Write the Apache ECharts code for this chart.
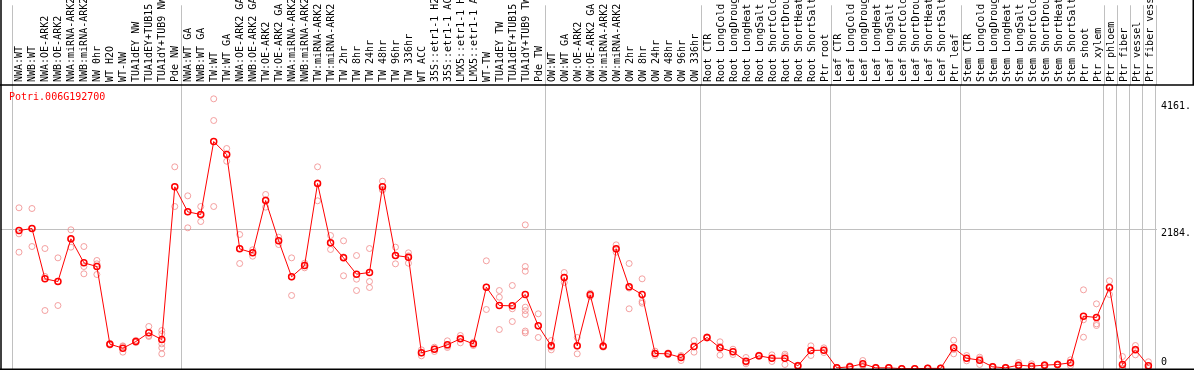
<!DOCTYPE html>
<html><head><meta charset="utf-8">
<script src="https://cdn.jsdelivr.net/npm/echarts@6/dist/echarts.min.js"></script>
<style>html,body{margin:0;padding:0;background:#fff}#c{width:1194px;height:370px}</style>
</head><body><div id="c"></div>
<script>
const categories = [
"NWA:WT","NWB:WT","NWA:OE-ARK2","NWB:OE-ARK2","NWA:miRNA-ARK2","NWB:miRNA-ARK2","NW 0hr","WT H2O","WT-NW","TUA1dEY NW","TUA1dEY+TUB15","TUA1dY+TUB9 NW","Pde NW",
"NWA:WT GA","NWB:WT GA","TW:WT","TW:WT GA","NWA:OE-ARK2 GA","NWB:OE-ARK2 GA","TW:OE-ARK2","TW:OE-ARK2 GA","NWA:miRNA-ARK2","NWB:miRNA-ARK2","TW:miRNA-ARK2","TW:miRNA-ARK2","TW 2hr","TW 8hr","TW 24hr","TW 48hr","TW 96hr","TW 336hr","WT ACC","35S::etr1-1 H2","35S::etr1-1 AC","LMX5::etr1-1 H","LMX5::etr1-1 A","WT-TW","TUA1dEY TW","TUA1dEY+TUB15","TUA1dY+TUB9 TW","Pde TW",
"OW:WT","OW:WT GA","OW:OE-ARK2","OW:OE-ARK2 GA","OW:miRNA-ARK2","OW:miRNA-ARK2","OW 2hr","OW 8hr","OW 24hr","OW 48hr","OW 96hr","OW 336hr",
"Root CTR","Root LongCold","Root LongDroug","Root LongHeat","Root LongSalt","Root ShortCold","Root ShortDrou","Root ShortHeat","Root ShortSalt","Ptr root",
"Leaf CTR","Leaf LongCold","Leaf LongDroug","Leaf LongHeat","Leaf LongSalt","Leaf ShortCold","Leaf ShortDrou","Leaf ShortHeat","Leaf ShortSalt","Ptr leaf",
"Stem CTR","Stem LongCold","Stem LongDroug","Stem LongHeat","Stem LongSalt","Stem ShortCold","Stem ShortDrou","Stem ShortHeat","Stem ShortSalt",
"Ptr shoot","Ptr xylem","Ptr phloem","Ptr fiber","Ptr vessel","Ptr fiber vess"];

const means = [
2153,2184,1402,1360,2024,1651,1593,386,324,427,562,458,2832,
2443,2402,3536,3334,1868,1806,2619,1993,1433,1609,2884,1962,1728,1474,1500,2832,1764,1738,251,308,376,469,391,1272,987,982,1158,671,
360,1422,360,1153,355,1868,1278,1158,241,236,179,350,
490,329,267,121,205,168,168,49,288,293,
18,34,81,18,18,5,5,10,10,329,
168,137,34,18,60,44,60,70,96,
821,801,1267,70,298,49];

const replicates = [
[2506,2101,1816],[2495,2184,1904],[1873,1438,909],[1728,1365,987],[2164,2014,1894],[1904,1593,1480],[1687,1635,1469],[400,386,372],[360,350,262],[445,425,411],[661,520,505],[598,547,391,329,236],[3143,2828,2526],
[2692,2443,2195],[2526,2390,2293],[4200,3863,2526],[3428,3340,3230],[2091,1875,1640],[1853,1810,1754],[2713,2630,2516],[2049,1995,1935],[1728,1430,1143],[1645,1610,1573],[3143,2894,2615],[2075,1953,1858],[1993,1742,1449],[1764,1396,1220],[1873,1360,1267],[2920,2795,2780],[1894,1765,1635],[1806,1760,1645],[298,250,205],[339,313,272],[438,356,334],[521,479,407],[417,391,365],[1682,1272,925],[1220,1116,614],[1298,936,738],[2241,1593,1520,961,909,847,590,562],[858,665,490],
[443,340,298],[1500,1420,1345],[490,354,236],[1179,1153,1127],[370,355,340],[1930,1860,1816],[1640,1258,936],[1402,1050,1023],[277,236,210],[250,236,222],[210,195,132],[443,345,262],
[500,490,480],[423,350,215],[308,268,225],[179,105,81],[215,205,195],[220,168,117],[230,205,70],[60,49,38],[360,294,210],[329,293,256],
[25,18,11],[50,34,20],[132,62,49],[25,18,11],[25,18,11],[8,5,2],[8,5,2],[15,10,5],[15,10,5],[448,303,236],
[210,168,127],[184,157,70],[40,34,28],[25,18,11],[101,40,40],[81,44,10],[70,60,50],[80,70,60],[143,93,52],
[1231,765,494],[1013,702,676],[1371,1270,1158],[194,10,10],[365,309,220],[112,25,10]];

const yTickLabelsUpper = [2184, 4161];
const yTickLabelsLower = [0];
const gridLineValues = [2184];
const groupStarts = [0, 13, 41, 53, 63, 73, 84, 85, 86, 87];
const geneTitle = 'Potri.006G192700';

const scatterData = [];
replicates.forEach((arr, i) => arr.forEach(v => scatterData.push([i, v])));

const FONT = 'DejaVu Sans Mono';
const YMAX = 4415;
const chart = echarts.init(document.getElementById('c'), null, {renderer: 'canvas'});
const gridL = 12.5, gridR = 37.5;
const splitFn = (idx) => groupStarts.indexOf(idx) >= 0;
const valueAxisBase = {gridIndex: 1, type: 'value', min: 0, max: YMAX, position: 'right',
  axisLine: {show: false}, axisTick: {show: false}, splitLine: {show: false}};

const option = {
  animation: false,
  title: {text: geneTitle, left: 9, top: 92, padding: 0,
    textStyle: {color: '#ff0000', fontSize: 10, fontWeight: 'normal', fontFamily: FONT}},
  grid: [
    {left: gridL, right: gridR, top: 0, height: 85},
    {left: gridL, right: gridR, top: 85, bottom: 1}
  ],
  xAxis: [
    {gridIndex: 0, type: 'category', data: categories, position: 'bottom',
      axisLine: {show: false}, axisTick: {show: false},
      axisLabel: {inside: true, rotate: 90, margin: 3, interval: 0, fontSize: 10, fontFamily: FONT, color: '#000'},
      splitLine: {show: true, interval: splitFn, lineStyle: {color: '#c0c0c0', width: 1}}},
    {gridIndex: 1, type: 'category', data: categories,
      axisLine: {show: false}, axisTick: {show: false}, axisLabel: {show: false},
      splitLine: {show: true, interval: splitFn, lineStyle: {color: '#c0c0c0', width: 1}}}
  ],
  yAxis: [
    {gridIndex: 0, type: 'value', show: false},
    Object.assign({}, valueAxisBase, {axisLabel: {customValues: yTickLabelsUpper, formatter: v => v + '.',
      verticalAlign: 'top', margin: 6, fontSize: 10, fontFamily: FONT, color: '#000'}}),
    Object.assign({}, valueAxisBase, {axisLabel: {customValues: yTickLabelsLower, formatter: v => String(v),
      verticalAlign: 'bottom', margin: 6, padding: [0, 0, 2, 0], fontSize: 10, fontFamily: FONT, color: '#000'}})
  ],
  series: [
    {type: 'scatter', xAxisIndex: 1, yAxisIndex: 1, data: scatterData, symbol: 'circle', symbolSize: 6,
      itemStyle: {color: 'rgba(0,0,0,0)', borderColor: '#f08a8a', borderWidth: 1}, z: 2, silent: true},
    {type: 'line', xAxisIndex: 1, yAxisIndex: 1, data: means, symbol: 'circle', symbolSize: 6,
      lineStyle: {color: '#ff0000', width: 1}, itemStyle: {color: 'rgba(0,0,0,0)', borderColor: '#ff0000', borderWidth: 1.5},
      z: 3, silent: true}
  ]
};
chart.setOption(option);

const graphics = [];
gridLineValues.forEach(v => {
  const y = Math.round(chart.convertToPixel({yAxisIndex: 1}, v)) + 0.5;
  graphics.push({type: 'line', shape: {x1: 1, y1: y, x2: 1157, y2: y}, style: {stroke: '#c0c0c0', lineWidth: 1}, z: 0});
});
graphics.push({type: 'line', shape: {x1: 1, y1: 0, x2: 1, y2: 370}, style: {stroke: '#000', lineWidth: 1.5}, z: 10});
graphics.push({type: 'line', shape: {x1: 0, y1: 85, x2: 1194, y2: 85}, style: {stroke: '#000', lineWidth: 1.5}, z: 10});
graphics.push({type: 'line', shape: {x1: 0, y1: 369.25, x2: 1194, y2: 369.25}, style: {stroke: '#000', lineWidth: 1.5}, z: 10});
graphics.push({type: 'line', shape: {x1: 1193.25, y1: 0, x2: 1193.25, y2: 85}, style: {stroke: '#000', lineWidth: 1.5}, z: 10});
chart.setOption({graphic: graphics});
</script>
</body></html>
